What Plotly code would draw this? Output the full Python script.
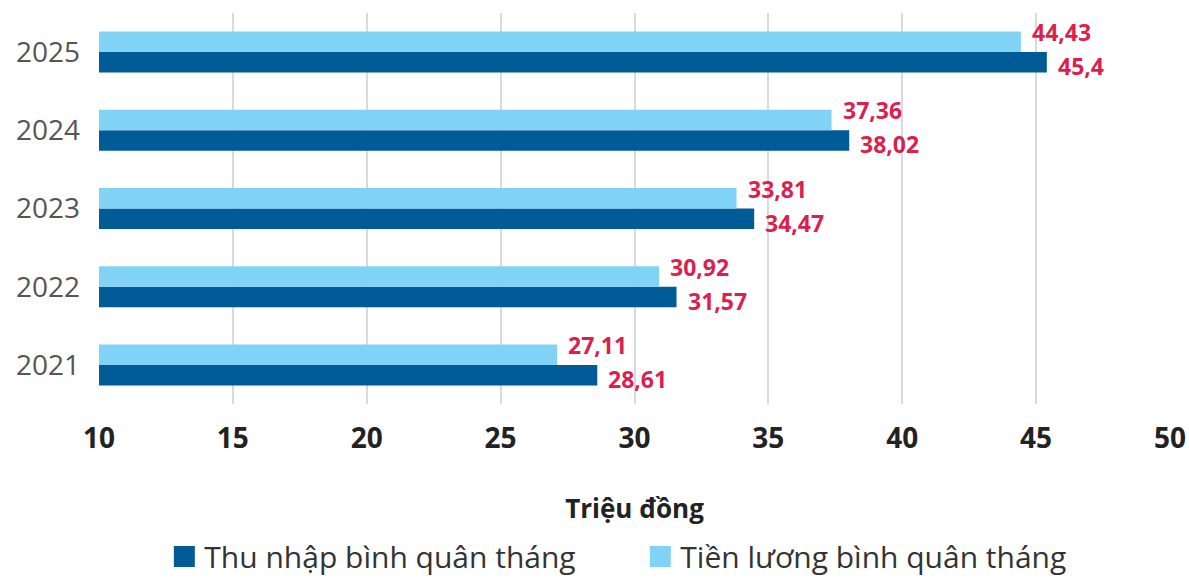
import plotly.graph_objects as go

years = ["2021", "2022", "2023", "2024", "2025"]
thu_nhap = [28.61, 31.57, 34.47, 38.02, 45.4]
tien_luong = [27.11, 30.92, 33.81, 37.36, 44.43]
x_ticks = [10, 15, 20, 25, 30, 35, 40, 45, 50]
name_thu_nhap = "Thu nhập bình quân tháng"
name_tien_luong = "Tiền lương bình quân tháng"
x_title = "Triệu đồng"

DARK = "#005B96"
LIGHT = "#81D3F6"
RED = "#DC1F4F"
FONT = "Open Sans"


def vn(v):
    return ("%g" % v).replace(".", ",")


fig = go.Figure()
fig.add_trace(go.Bar(y=years, x=thu_nhap, orientation="h", name=name_thu_nhap,
                     marker=dict(color=DARK, line=dict(width=0)), showlegend=False))
fig.add_trace(go.Bar(y=years, x=tien_luong, orientation="h", name=name_tien_luong,
                     marker=dict(color=LIGHT, line=dict(width=0)), showlegend=False))
# legend entries (bigger square keys)
for nm, col in [(name_thu_nhap, DARK), (name_tien_luong, LIGHT)]:
    fig.add_trace(go.Scatter(x=[None], y=[None], mode="markers", name=nm,
                             marker=dict(symbol="square", size=16, color=col,
                                         line=dict(color=col, width=5)),
                             hoverinfo="skip"))

annotations = []
for i, v in enumerate(thu_nhap):
    annotations.append(dict(x=v, y=i, xref="x", yref="y", text=vn(v), showarrow=False,
                            xanchor="left", yanchor="middle", xshift=9, yshift=-14,
                            font=dict(family=FONT, size=23, color=RED, weight=700)))
for i, v in enumerate(tien_luong):
    annotations.append(dict(x=v, y=i, xref="x", yref="y", text=vn(v), showarrow=False,
                            xanchor="left", yanchor="middle", xshift=9, yshift=20,
                            font=dict(family=FONT, size=23, color=RED, weight=700)))

fig.update_layout(
    width=1189, height=580,
    margin=dict(l=99, r=19, t=13, b=176, autoexpand=False),
    paper_bgcolor="white", plot_bgcolor="white",
    barmode="group", bargap=0.476, bargroupgap=0,
    font=dict(family=FONT, color="#333333"),
    showlegend=True,
    legend=dict(orientation="h", x=0.061, xanchor="left", y=-0.39, yanchor="middle",
                font=dict(family=FONT, size=30, color="#333333"),
                entrywidth=431, entrywidthmode="pixels", traceorder="normal",
                bgcolor="rgba(0,0,0,0)"),
    annotations=annotations,
)
fig.update_xaxes(range=[10, 50], tickvals=x_ticks, showgrid=True, gridcolor="#DADADA",
                 gridwidth=2, zeroline=False, showline=False, automargin=False,
                 ticks="", ticklabelstandoff=15,
                 tickfont=dict(family=FONT, size=28, color="#222222", weight="bold"),
                 title=dict(text=x_title, standoff=44,
                            font=dict(family=FONT, size=26, color="#222222", weight="bold")))
fig.update_yaxes(type="category", categoryorder="array", categoryarray=years,
                 range=[-0.5, 4.5], showgrid=False, automargin=False,
                 zeroline=False, showline=False, ticks="", ticklabelstandoff=18,
                 tickfont=dict(family=FONT, size=28, color="#555555"))

fig.write_html("out.html", config={"displayModeBar": False},
               post_script="document.body.style.margin='0px';document.body.style.overflow='hidden';")
